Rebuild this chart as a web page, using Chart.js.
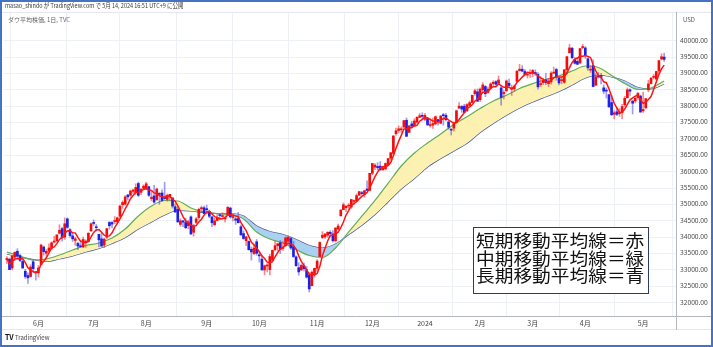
<!DOCTYPE html>
<html>
<head>
<meta charset="utf-8">
<script src="https://cdn.jsdelivr.net/npm/chart.js@4.4.1/dist/chart.umd.min.js"></script>
<style>
html, body { margin: 0; padding: 0; background: #fff; }
#wrap { position: relative; width: 713px; height: 347px; overflow: hidden; background: #fff;
  font-family: "Noto Sans CJK JP", "Noto Sans", sans-serif; }
#c { position: absolute; left: 0; top: 0; }
#frame { position: absolute; left: 0; top: 0; width: 709px; height: 343px; border: 2px solid #4472c4; pointer-events: none; }
.t { position: absolute; white-space: nowrap; line-height: 1; transform-origin: left top; }
#note { position: absolute; left: 473px; top: 227px; width: 172px; height: 62px; border: 1.5px solid #2c3b6b;
  background: #fff; color: #111; padding: 3px 0 0 2px; white-space: nowrap; }
#note span { display: block; font-size: 17px; line-height: 17.7px; transform: scaleX(1.1); transform-origin: left center; }
</style>
</head>
<body>
<div id="wrap">
  <canvas id="c" width="713" height="347"></canvas>
  <div class="t" style="left:5px;top:3px;font-size:6.3px;color:#3a3a3a;transform:scaleX(0.87);">masao_shindo が TradingView.com で 5月 14, 2024 16:51 UTC+9 に公開</div>
  <div class="t" style="left:8px;top:17px;font-size:6px;color:#666;">ダウ平均株価, 1日, TVC</div>
  <div class="t" style="left:683px;top:17px;font-size:6px;color:#555;">USD</div>
  <div class="t" style="left:5px;top:334px;font-size:7px;color:#111;font-weight:bold;">TV</div>
  <div class="t" style="left:15px;top:335px;font-size:6px;color:#444;">TradingView</div>
  <div id="note"><span>短期移動平均線＝赤</span><span>中期移動平均線＝緑</span><span>長期移動平均線＝青</span></div>
  <div id="frame"></div>
</div>
<script>
// daily candles, 2023-05-15 .. 2024-05-13
var opens = [
33310,33330,33060,33390,33570,33440,33260,32960,32830,32800,
33250,32940,32910,33160,33700,33510,33580,33660,33850,33890,
34120,34260,34000,34560,34230,34040,33900,33810,33730,33700,
33850,33860,34200,34440,34300,34090,33950,33760,34000,34450,
34450,34480,34470,34640,34990,35010,35290,35280,35400,35360,
35640,35370,35490,35470,35540,35180,35260,35140,35330,35350,
35200,35150,35240,35200,34930,34850,34390,34500,34450,34350,
34620,34150,34450,34600,34870,34900,34860,34790,34620,34380,
34510,34680,34630,34560,34680,34890,34600,34560,34570,34320,
34110,33890,33870,33630,33500,33860,33460,33330,33000,33120,
33010,33300,33620,33740,33830,33660,33740,33880,33960,33710,
33400,33070,33000,33130,33000,32840,32520,32860,33050,33410,
33990,34010,34060,34150,34100,33890,34250,34650,34840,34900,
34950,34920,35090,35100,35280,35340,35310,35470,35430,35950,
36140,36160,36170,36060,36090,36220,36410,36560,37160,37260,
37280,37360,37570,37200,37460,37400,37510,37660,37700,37600,
37620,37410,37420,37460,37590,37480,37740,37720,37520,37280,
37330,37520,37940,37990,38000,37860,38020,38110,38380,38440,
38200,38500,38600,38420,38550,38690,38750,38700,38560,38380,
38470,38700,38520,38530,38760,39090,39130,39060,38950,39000,
39000,39030,38970,38660,38720,38800,38690,38740,39010,39120,
38860,38780,38730,39110,39630,39770,39420,39370,39320,39790,
39780,39450,39100,39240,38640,38920,38940,38560,38470,38350,
38110,37750,37830,37770,37800,38040,38260,38500,38160,38160,
38260,38310,37860,37950,38500,38690,38880,38830,39080,39440,
39500];
var highs = [
33410,33360,33450,33550,33650,33480,33320,33020,32910,33160,
33310,32960,33140,33790,33730,33620,33800,33860,34030,34070,
34380,34300,34590,34590,34260,34140,34000,33840,33890,34000,
33920,34140,34440,34530,34390,34090,34120,33970,34270,34480,
34480,34630,34620,34980,35110,35270,35310,35440,35470,35630,
35680,35490,35600,35680,35560,35390,35580,35500,35360,35450,
35680,35320,35310,35200,35020,34920,34560,34510,34580,34520,
34650,34400,34600,34890,34950,34950,34980,34830,34630,34580,
34710,34690,34750,34660,34940,34920,34700,34610,34760,34370,
34190,34030,33890,33700,33790,33930,33560,33420,33150,33190,
33480,33610,33880,33820,33900,33870,34010,34050,34000,33870,
33430,33220,33180,33210,33110,32920,32970,33060,33320,33860,
34170,34100,34170,34200,34200,34290,34400,34840,35050,34960,
35030,35160,35140,35320,35400,35400,35430,35720,35950,36260,
36250,36280,36310,36170,36270,36410,36580,37100,37330,37400,
37370,37560,37640,37410,37540,37620,37680,37780,37800,37780,
37660,37620,37640,37700,37600,37720,37780,37780,37550,37300,
37520,37880,38110,38020,38060,38080,38160,38340,38520,38530,
38560,38720,38630,38590,38720,38780,38780,38920,38620,38480,
38800,38830,38640,38650,39090,39280,39240,39120,39000,39120,
39130,39110,39030,38900,38840,39000,38850,39060,39190,39160,
38890,38890,39120,39530,39890,39800,39490,39490,39760,39890,
39820,39470,39250,39420,39000,39030,39000,38650,38560,38370,
38330,37860,37960,37930,38060,38300,38560,38530,38160,38300,
38420,38340,38430,38230,38790,38880,38970,39070,39390,39600,
39620];
var lows = [
33200,33010,33000,33290,33380,33250,33050,32740,32590,32780,
32920,32690,32780,33160,33450,33410,33550,33620,33820,33860,
34100,33880,33930,34270,34000,33870,33750,33620,33690,33680,
33690,33860,34170,34360,34190,33700,33720,33680,33950,34250,
34280,34410,34420,34590,34880,34980,35140,35240,35330,35310,
35240,35300,35460,35450,35240,35110,35040,35130,35000,35090,
35150,35100,35120,34890,34760,34450,34330,34320,34260,34260,
34080,34030,34410,34540,34800,34720,34760,34590,34320,34360,
34500,34530,34610,34460,34670,34580,34500,34390,34440,34060,
33930,33740,33600,33300,33470,33450,33240,32990,32850,32940,
32850,33250,33580,33590,33500,33600,33710,33790,33630,33380,
33110,32840,32980,32970,32750,32330,32510,32780,32950,33400,
33960,33960,34000,34000,33850,33850,34230,34650,34840,34780,
34880,34880,34990,35100,35280,35290,35220,35420,35430,35910,
36060,36050,36050,36040,36050,36200,36350,36500,37110,37200,
37200,37360,37080,37200,37330,37400,37480,37650,37570,37560,
37410,37360,37320,37430,37420,37460,37420,37550,37300,37120,
37240,37500,37940,37810,37780,37830,38010,38100,38330,38150,
38140,38460,38290,38400,38510,38620,38610,38690,38030,38220,
38450,38560,38330,38460,38750,39070,39050,38920,38860,38880,
38900,38940,38520,38600,38660,38660,38600,38670,38990,38790,
38650,38680,38700,39000,39620,39440,39280,39270,39290,39750,
39460,39090,39030,38590,38640,38860,38680,38380,38250,37960,
37710,37610,37710,37690,37610,37990,38240,38330,37760,38100,
38210,37820,37810,37920,38440,38680,38830,38800,39010,39410,
39370];
var closes = [
33350,33010,33420,33540,33430,33290,33060,32800,32760,33090,
33040,32910,33060,33760,33560,33570,33670,33830,33880,34070,
34210,33980,34410,34300,34050,33950,33950,33730,33710,33930,
33850,34120,34410,34420,34290,33920,33730,33940,34260,34350,
34400,34510,34590,34950,35060,35230,35230,35410,35440,35520,
35280,35460,35560,35630,35280,35220,35070,35470,35310,35120,
35180,35280,35310,34950,34770,34470,34500,34460,34290,34470,
34100,34350,34560,34850,34890,34720,34840,34640,34440,34500,
34580,34660,34650,34580,34910,34620,34620,34520,34440,34070,
33960,34010,33620,33550,33670,33510,33430,33000,33130,33120,
33410,33600,33740,33800,33630,33670,33980,34000,33670,33410,
33130,32940,33140,33040,32780,32420,32930,33050,33270,33840,
34060,34100,34150,34110,33890,34280,34340,34830,34990,34950,
34950,35150,35090,35270,35390,35330,35420,35430,35950,36250,
36200,36120,36050,36120,36250,36400,36580,37090,37250,37310,
37310,37560,37080,37400,37390,37550,37660,37710,37690,37720,
37430,37440,37470,37680,37530,37700,37710,37590,37360,37270,
37470,37860,38000,37910,37810,38050,38110,38330,38470,38150,
38520,38650,38380,38520,38680,38730,38670,38800,38270,38420,
38770,38630,38560,38610,39070,39130,39070,38970,38950,39000,
39090,38990,38590,38660,38790,38720,38770,39010,39040,38910,
38710,38790,39110,39510,39780,39480,39310,39280,39760,39810,
39570,39170,39130,38600,38900,38890,38880,38460,38460,37980,
37740,37800,37750,37780,37990,38240,38500,38460,38090,38240,
38390,37820,37900,38230,38680,38850,38880,39060,39390,39510,
39430];

// medium (green) and long (navy) averages, every 5th bar
var maIdx = [0,5,10,15,20,25,30,35,40,45,50,55,60,65,70,75,80,85,90,95,
  100,105,110,115,120,125,130,135,140,145,150,155,160,165,170,175,180,185,190,195,
  200,205,210,215,220,225,230,235,240,245,250];
var midMA = [33548,33426,33304,33334,33456,33609,33747,33823,33976,34250,
  34647,34953,35121,35105,34892,34769,34724,34678,34556,34159,
  33945,33823,33624,33441,33380,33670,34159,34641,35121,35646,
  36174,36571,36876,37151,37441,37679,37930,38159,38333,38540,
  38690,38812,38931,39075,39227,39182,38937,38693,38510,38556,38769];
var longMA = [33487,33395,33319,33258,33334,33426,33548,33655,33808,33991,
  34250,34464,34678,34815,34800,34754,34724,34724,34647,34342,
  34174,34082,33930,33747,33670,33790,34082,34363,34690,35084,
  35472,35792,36144,36403,36632,36867,37197,37472,37722,37945,
  38128,38290,38449,38647,38861,38953,38892,38769,38571,38531,38678];

var monthIdx = [12,33,53,76,96,118,139,159,180,200,220,242];
var monthLabels = ['6月','7月','8月','9月','10月','11月','12月','2024','2月','3月','4月','5月'];
var priceTicks = [32000,32500,33000,33500,34000,34500,35000,35500,36000,36500,37000,37500,38000,38500,39000,39500,40000];

var UP = '#f20d0d', DOWN = '#1f1fe6';
var UP_W = 'rgba(242,40,40,0.55)', DOWN_W = 'rgba(60,60,235,0.5)';

var shortMA = closes.map(function (c, i) {
  var from = Math.max(0, i - 4), s = 0;
  for (var k = from; k <= i; k++) s += closes[k];
  return { x: i, y: s / (i - from + 1) };
});

function isUp(i) { return closes[i] >= opens[i]; }

var frameLines = {
  id: 'frameLines',
  afterDraw: function (chart) {
    var ctx = chart.ctx, a = chart.chartArea;
    ctx.save();
    ctx.lineWidth = 1;
    ctx.strokeStyle = '#e4e7ee';
    ctx.beginPath();
    ctx.moveTo(2, 12.5); ctx.lineTo(711, 12.5);
    ctx.moveTo(2, 329.5); ctx.lineTo(711, 329.5);
    ctx.stroke();
    ctx.strokeStyle = '#b4b7c0';
    ctx.beginPath();
    ctx.moveTo(Math.round(a.right) + 0.5, 12); ctx.lineTo(Math.round(a.right) + 0.5, 330);
    ctx.moveTo(2, Math.round(a.bottom) + 0.5); ctx.lineTo(711, Math.round(a.bottom) + 0.5);
    ctx.stroke();
    ctx.restore();
  }
};

var ctx = document.getElementById('c').getContext('2d');
new Chart(ctx, {
  data: {
    datasets: [
      {
        type: 'line', label: 'long', order: 5,
        data: maIdx.map(function (x, i) { return { x: x, y: longMA[i] }; }),
        borderColor: '#465192', borderWidth: 1.2, pointRadius: 0,
        cubicInterpolationMode: 'monotone', fill: false
      },
      {
        type: 'line', label: 'mid', order: 4,
        data: maIdx.map(function (x, i) { return { x: x, y: midMA[i] }; }),
        borderColor: '#62ad55', borderWidth: 1.2, pointRadius: 0,
        cubicInterpolationMode: 'monotone',
        fill: { target: 0, above: '#fdf1b2', below: '#a9d1f2' }
      },
      {
        type: 'bar', label: 'wick', order: 3, grouped: false,
        data: closes.map(function (c, i) { return { x: i, y: [lows[i], highs[i]] }; }),
        backgroundColor: function (c) { return isUp(c.dataIndex) ? UP_W : DOWN_W; },
        barThickness: 1, borderWidth: 0
      },
      {
        type: 'bar', label: 'body', order: 2, grouped: false,
        data: closes.map(function (c, i) { return { x: i, y: [opens[i], c] }; }),
        backgroundColor: function (c) { return isUp(c.dataIndex) ? UP : DOWN; },
        barThickness: 2, borderWidth: 0, minBarLength: 1
      },
      {
        type: 'line', label: 'short', order: 1,
        data: shortMA,
        borderColor: '#ff1414', borderWidth: 1.5, pointRadius: 0, tension: 0, fill: false
      }
    ]
  },
  options: {
    responsive: false,
    animation: false,
    devicePixelRatio: 1,
    layout: { padding: { left: 4, right: 2, top: 12, bottom: 17 } },
    plugins: { legend: { display: false }, tooltip: { enabled: false } },
    scales: {
      x: {
        type: 'linear', min: -1.1, max: 254.5, offset: false,
        afterBuildTicks: function (s) { s.ticks = monthIdx.map(function (v) { return { value: v }; }); },
        afterFit: function (s) { s.height = 14; },
        ticks: {
          autoSkip: false, maxRotation: 0, padding: 3, color: '#444',
          font: { size: 7, family: '"Noto Sans CJK JP", "Noto Sans", sans-serif' },
          callback: function (v) { return monthLabels[monthIdx.indexOf(v)]; }
        },
        grid: { color: '#edf0f5', drawTicks: false },
        border: { display: false }
      },
      y: {
        type: 'linear', position: 'right', min: 31594, max: 40876,
        afterBuildTicks: function (s) { s.ticks = priceTicks.map(function (v) { return { value: v }; }); },
        afterFit: function (s) { s.width = 35; },
        ticks: {
          padding: 4, color: '#4a4a4a',
          font: { size: 6.5, family: '"Noto Sans", sans-serif' },
          callback: function (v) { return v.toFixed(2); }
        },
        grid: { color: '#edf0f5', drawTicks: false },
        border: { display: false }
      }
    }
  },
  plugins: [frameLines]
});
</script>
</body>
</html>
